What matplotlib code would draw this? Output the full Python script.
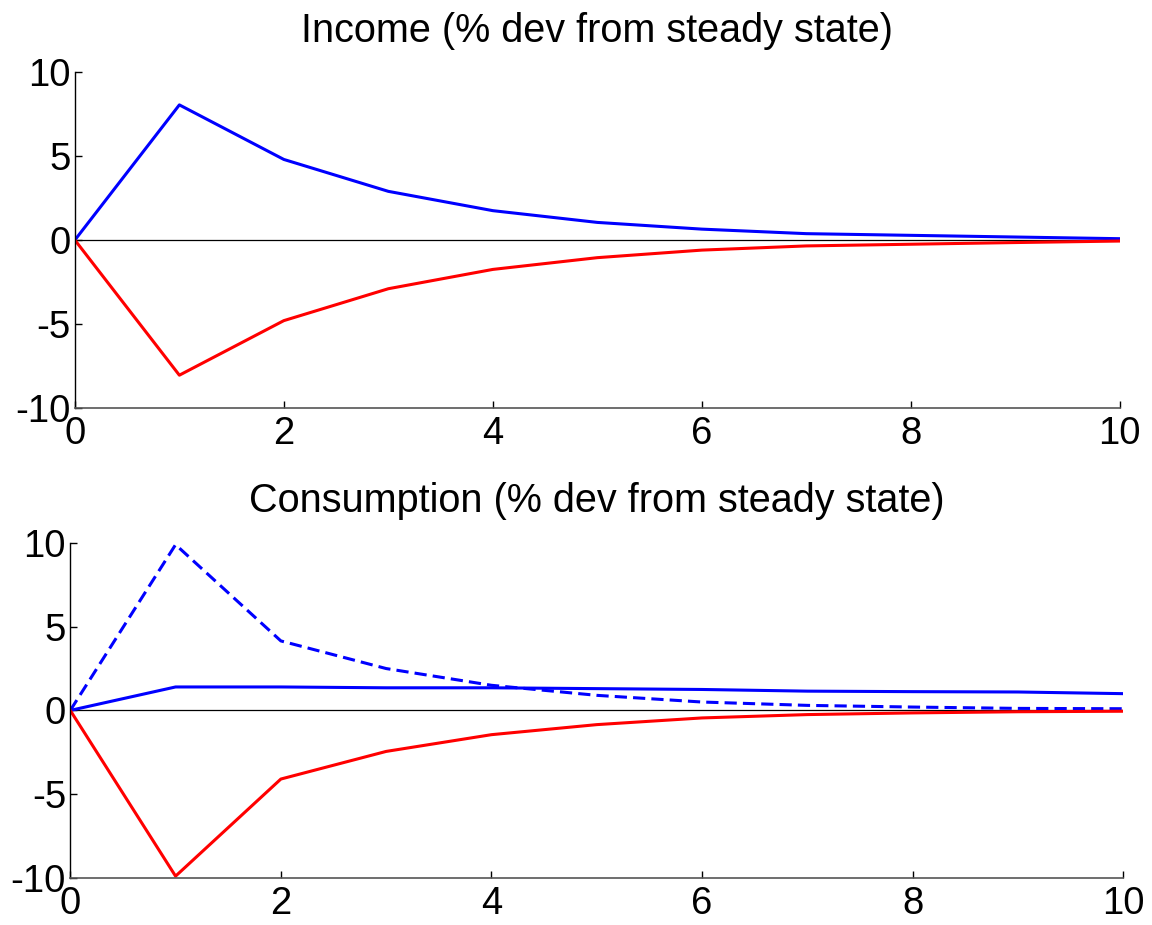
import matplotlib
matplotlib.use("Agg")
import matplotlib.pyplot as plt

plt.rcParams['font.family'] = ['Liberation Sans', 'DejaVu Sans']
plt.rcParams['axes.unicode_minus'] = False

periods = [0, 1, 2, 3, 4, 5, 6, 7, 8, 9, 10]
income_pos = [0, 8.05, 4.8, 2.9, 1.75, 1.05, 0.65, 0.38, 0.28, 0.18, 0.08]
income_neg = [0, -8.05, -4.8, -2.9, -1.75, -1.05, -0.6, -0.35, -0.25, -0.15, -0.06]
cons_dash = [0, 9.9, 4.15, 2.5, 1.5, 0.9, 0.5, 0.3, 0.2, 0.12, 0.1]
cons_solid = [0, 1.4, 1.4, 1.35, 1.35, 1.3, 1.25, 1.15, 1.12, 1.1, 1.0]
cons_neg = [0, -9.9, -4.1, -2.45, -1.45, -0.85, -0.45, -0.25, -0.15, -0.08, -0.05]
yticks = [-10, -5, 0, 5, 10]
xticks = [0, 2, 4, 6, 8, 10]

fig = plt.figure(figsize=(11.52, 9.25), dpi=100)
ax1 = fig.add_axes([0.065, 0.559, 0.907, 0.363])
ax2 = fig.add_axes([0.061, 0.051, 0.914, 0.362])

def style(ax, title):
    ax.set_xlim(0, 10)
    ax.set_ylim(-10, 10)
    ax.set_xticks(xticks)
    ax.set_yticks(yticks)
    for s in ['top', 'right']:
        ax.spines[s].set_visible(False)
    ax.spines['left'].set_color('black')
    ax.spines['bottom'].set_color('#555555')
    ax.spines['left'].set_linewidth(1.0)
    ax.spines['bottom'].set_linewidth(1.2)
    ax.tick_params(direction='in', length=5, width=1.0, labelsize=27.5, colors='black')
    ax.tick_params(axis='x', pad=6)
    ax.tick_params(axis='y', pad=3)
    ax.axhline(0, color='black', lw=0.9, zorder=1)
    ax.set_title(title, fontsize=28.5, pad=22)

ax1.plot(periods, income_pos, color='#0000ff', lw=2.2)
ax1.plot(periods, income_neg, color='#ff0000', lw=2.2)
style(ax1, 'Income (% dev from steady state)')

ax2.plot(periods, cons_dash, color='#0000ff', lw=2.2, ls=(0, (4, 2)))
ax2.plot(periods, cons_solid, color='#0000ff', lw=2.2)
ax2.plot(periods, cons_neg, color='#ff0000', lw=2.2)
style(ax2, 'Consumption (% dev from steady state)')

fig.savefig('out.png', dpi=100)
